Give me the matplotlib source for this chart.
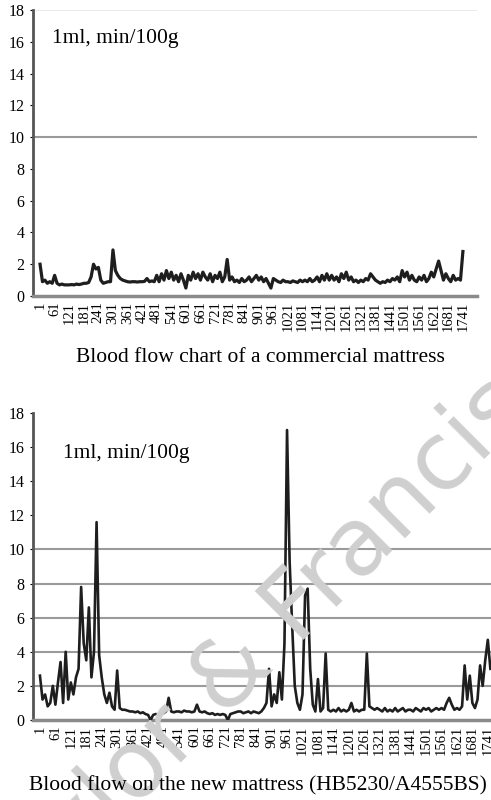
# blood flow charts, commercial vs new mattress
import numpy as np
import matplotlib
matplotlib.use("Agg")
import matplotlib.pyplot as plt

plt.rcParams["font.family"] = ["Liberation Serif", "DejaVu Serif"]

# sample positions (record index), every 10 records
idx_top = np.arange(1, 1742, 10)
idx_bot = np.arange(1, 1752, 10)

# commercial mattress, values (6 per tick interval)
flow_commercial = [
    2.0, 0.9, 1.0, 0.8, 0.9, 0.8,
    1.3, 0.8, 0.7, 0.75, 0.7, 0.7,
    0.7, 0.72, 0.7, 0.75, 0.72, 0.75,
    0.8, 0.8, 0.85, 1.2, 2.0, 1.7,
    1.8, 1.0, 0.8, 0.85, 0.9, 0.9,
    2.9, 1.6, 1.3, 1.1, 1.0, 0.95,
    0.9, 0.88, 0.9, 0.9, 0.88, 0.9,
    0.9, 0.92, 1.1, 0.9, 0.95, 0.9,
    1.3, 0.9, 1.4, 1.0, 1.6, 1.1,
    1.5, 1.0, 1.3, 0.9, 1.4, 1.0,
    0.5, 1.3, 1.0, 1.5, 1.1, 1.4,
    1.0, 1.5, 1.2, 1.0, 1.4, 0.9,
    1.3, 1.1, 1.5, 0.9, 1.2, 2.3,
    1.0, 1.2, 0.9, 1.0, 0.85, 1.1,
    0.9, 1.0, 1.2, 0.9, 1.1, 1.3,
    1.0, 1.2, 0.9, 1.1, 0.8, 0.5,
    1.1, 1.0, 0.9, 0.85, 1.0, 0.9,
    0.9, 0.85, 0.95, 0.9, 0.85, 1.0,
    0.9, 1.0, 0.9, 1.1, 0.9, 1.0,
    1.2, 0.9, 1.3, 1.0, 1.4, 1.0,
    1.3, 1.0, 1.2, 0.9, 1.4, 1.1,
    1.5, 1.0, 1.2, 0.9, 1.0, 0.85,
    1.0, 0.9, 1.1, 1.0, 1.4, 1.2,
    1.0, 0.9, 0.8, 0.9, 0.85, 1.0,
    0.9, 1.1, 1.0, 1.2, 0.9, 1.6,
    1.2, 1.5, 1.0, 1.3, 1.0, 0.9,
    1.2, 1.0, 1.3, 0.9, 1.1, 1.5,
    1.2, 1.7, 2.2, 1.6, 1.0, 1.4,
    1.1, 0.9, 1.3, 1.0, 1.1, 1.0,
    2.8,
]

# new mattress (HB5230/A4555BS)
flow_new = [
    2.6, 1.2, 1.5, 0.8, 1.0, 2.0,
    0.9, 2.2, 3.4, 1.0, 4.0, 1.2,
    2.2, 1.5, 2.5, 3.0, 7.8, 4.5,
    3.5, 6.6, 2.5, 4.0, 11.6, 3.8,
    2.5, 1.5, 1.0, 1.6, 0.8, 0.6,
    2.9, 0.7, 0.6, 0.6, 0.55, 0.5,
    0.5, 0.45, 0.5, 0.4, 0.45, 0.35,
    0.3, 0.0, 0.3, 0.35, 0.3, 0.4,
    0.4, 0.5, 1.3, 0.5, 0.45, 0.5,
    0.5, 0.45, 0.55, 0.5, 0.5, 0.45,
    0.5, 0.9, 0.5, 0.45, 0.5, 0.4,
    0.35, 0.4, 0.3, 0.35, 0.3, 0.35,
    0.3, 0.0, 0.35, 0.4, 0.45, 0.5,
    0.5, 0.4, 0.45, 0.5, 0.4, 0.5,
    0.45, 0.4, 0.5, 0.7, 1.0, 3.0,
    0.8, 1.5, 1.0, 2.8, 1.2, 4.5,
    17.0, 9.3, 5.5, 2.0, 1.0, 0.6,
    1.5, 7.3, 7.7, 3.0, 0.9, 0.5,
    2.4, 0.5, 0.7, 3.9, 0.6, 0.5,
    0.6, 0.5, 0.7, 0.5, 0.6, 0.5,
    0.6, 1.0, 0.5, 0.6, 0.5, 0.6,
    0.6, 3.9, 0.8, 0.7, 0.6, 0.7,
    0.6, 0.5, 0.7, 0.5, 0.6, 0.5,
    0.7, 0.5, 0.6, 0.7, 0.5, 0.6,
    0.6, 0.5, 0.7, 0.6, 0.5, 0.7,
    0.6, 0.7, 0.5, 0.6, 0.7, 0.6,
    0.7, 0.6, 1.0, 1.3, 0.9, 0.6,
    0.7, 0.6, 0.8, 3.2, 1.2, 2.6,
    1.0, 0.7, 1.2, 3.2, 2.0, 3.5,
    4.7, 3.0,
]

xticks = list(range(1, 1742, 60))
yticks = list(range(0, 19, 2))
unit_label = "1ml, min/100g"
caption_top = "Blood flow chart of a commercial mattress"
caption_bot = "Blood flow on the new mattress (HB5230/A4555BS)"

fig = plt.figure(figsize=(4.91, 8.0), dpi=100)

# watermark
fig.text(0.51, 0.18, "Taylor & Francis", family="DejaVu Sans", fontsize=68,
         color="#cfcfcf", rotation=45, ha="center", va="center", zorder=0)


def style(ax, xlim, grid):
    ax.set_xlim(*xlim)
    ax.set_ylim(0, 18)
    ax.set_yticks(yticks)
    ax.set_xticks(xticks)
    ax.set_xticklabels([str(t) for t in xticks], rotation=90, fontsize=10.5)
    ax.tick_params(axis="y", labelsize=11.5, length=2, pad=4)
    ax.tick_params(axis="x", length=0, pad=4)
    for s in ("top", "right"):
        ax.spines[s].set_visible(False)
    ax.spines["left"].set_color("#555555")
    ax.spines["left"].set_linewidth(2)
    ax.spines["bottom"].set_color("#8a8a8a")
    ax.spines["bottom"].set_linewidth(2.5)
    for g in grid:
        ax.axhline(g, color="#9a9a9a", lw=1.5, zorder=1)
    ax.patch.set_alpha(0)


ax1 = fig.add_axes([33 / 491, 1 - 296 / 800, 444 / 491, 286 / 800])
style(ax1, (-28, 1799), [10])
ax1.axhline(18, color="#e6e6e6", lw=1.2, zorder=1)
ax1.plot(idx_top, flow_commercial, color="#1e1e1e", lw=2.3, zorder=3)
ax1.text(52, 16.2, unit_label, fontsize=15.5, va="center")

ax2 = fig.add_axes([33 / 491, 80 / 800, 470 / 491, 307 / 800])
style(ax2, (-26, 1800), [2, 4, 6, 8, 10])
ax2.plot(idx_bot, flow_new, color="#1e1e1e", lw=1.9, zorder=3)
ax2.text(92, 15.6, unit_label, fontsize=15.5, va="center")

fig.text(260 / 491, 1 - 358 / 800, caption_top, fontsize=15.5, ha="center", va="center")
fig.text(258 / 491, 1 - 786 / 800, caption_bot, fontsize=15.5, ha="center", va="center")

fig.savefig("out.png", dpi=100)
